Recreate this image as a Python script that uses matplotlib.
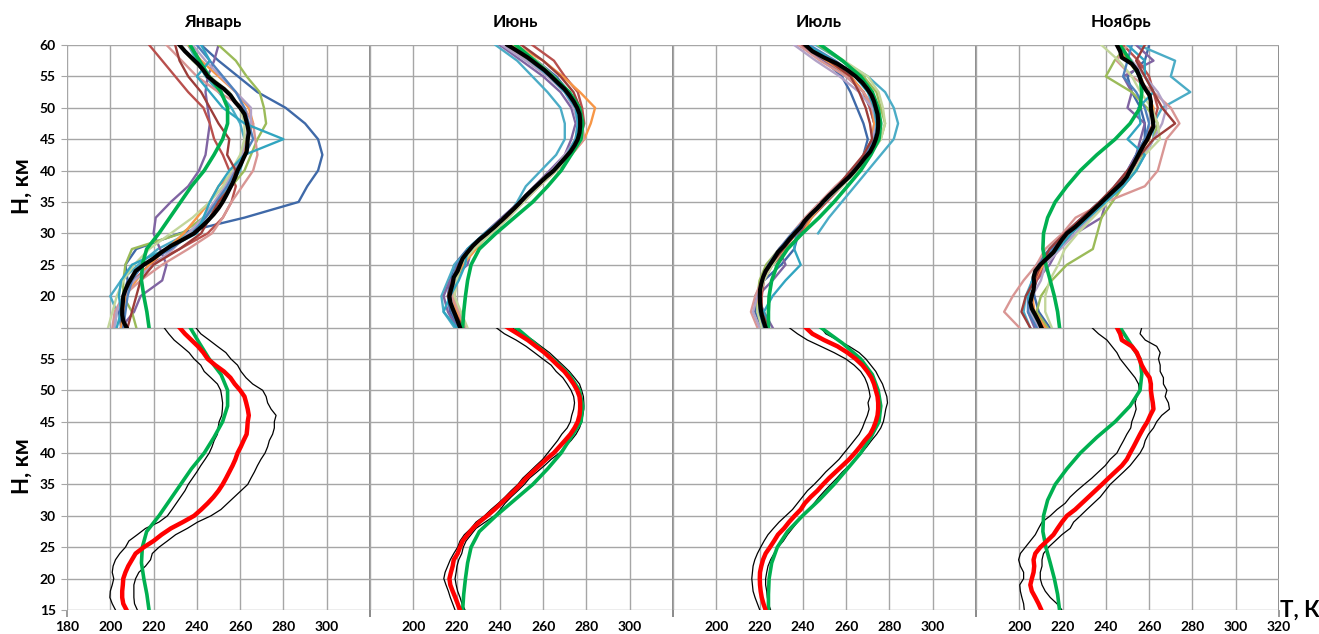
import numpy as np
import matplotlib.pyplot as plt

plt.rcParams['font.family'] = ['Lato', 'Open Sans', 'DejaVu Sans']

# altitude grids, km
h_fine = np.arange(15, 61, 1)
h_nodes = np.arange(15, 60.1, 2.5)

months = ['Январь', 'Июнь', 'Июль', 'Ноябрь']

# ---- January ----
jan_mean = [207.5, 206, 205.5, 205.5, 205.8, 206, 207, 208.3, 210, 211.7, 215.5, 220, 223.7, 228, 233.5, 238.7,
            242, 245, 247.7, 250, 251.9, 253.5, 255, 256.5, 257.8, 258.8, 260.3, 261.6, 263, 263.3, 263.5, 264,
            263.5, 262.8, 262, 260, 257.5, 255.5, 252.5, 248.5, 245, 243, 240.5, 237.5, 234.5, 232]
jan_low = [202.4, 200.9, 199.8, 200, 200.9, 201.6, 200.9, 201.3, 202.4, 204.4, 207, 208.6, 212.5, 216.3, 222.5,
           226.4, 228.5, 230.5, 232.5, 234.5, 236, 238, 240, 241.8, 243.8, 245.7, 247, 248, 249.5, 249.8, 250.3,
           251.5, 251.8, 251.9, 251.5, 251, 249.5, 246.5, 243.4, 241.8, 238.7, 236.4, 233, 229.5, 227, 224.8]
jan_high = [212.5, 211.2, 210.9, 210.9, 210.9, 211.7, 213.2, 216.3, 218.6, 219.4, 222.5, 226.4, 230.2, 235.6,
            240.3, 246.5, 251.1, 254.2, 257.3, 260.4, 263.5, 265, 266.6, 268, 269.6, 271.5, 272.7, 273.5, 275,
            275.8, 275.8, 276.6, 274.3, 272.7, 272, 270.4, 265.8, 262.7, 260.4, 258.8, 255.7, 253.4, 249.5,
            245.7, 241.8, 239.5]
jan_model = [217.9, 216.9, 215.5, 214.4, 214.8, 216.8, 222.5, 227.5, 232.5, 237.5, 243.4, 247.9, 251.9, 254.2,
             254.2, 251.2, 245.7, 241.2, 236.9]
jan_profiles = [
    [205, 204, 206, 208, 207, 212, 232, 262, 287, 291, 296, 298, 296, 290, 281, 268, 259, 250, 242],
    [202, 203, 200, 205, 213, 222, 236, 244, 250, 255, 260, 262, 262, 260, 256, 250, 244, 240, 236],
    [205, 211, 214, 224, 226, 223, 220, 221, 228, 236, 241, 244, 245, 246, 245, 244, 245, 248, 250],
    [207, 206, 206, 211, 218, 232, 245, 252, 256, 258, 255, 252, 248, 246, 243, 236, 230, 224, 218],
    [212, 210, 206, 206, 207, 210, 233, 243, 250, 256, 262, 265, 268, 272, 271, 269, 263, 258, 250],
    [205, 206, 207, 212, 218, 226, 234, 240, 246, 250, 258, 262, 263, 266, 264, 258, 250, 242, 236],
    [201, 202, 206, 214, 224, 236, 247, 252, 256, 261, 266, 268, 267, 266, 262, 250, 240, 233, 226],
    [202, 203, 206, 211, 220, 229, 236, 243, 248, 253, 257, 261, 262, 265, 265, 258, 251, 244, 238],
    [199, 201, 203, 206, 211, 218, 228, 238, 246, 252, 256, 260, 262, 262, 260, 255, 246, 238, 232],
    [206, 207, 208, 210, 215, 228, 238, 244, 249, 254, 258, 262, 266, 264, 262, 258, 252, 246, 240],
    [203, 205, 204, 205, 210, 226, 240, 243, 246, 250, 255, 262, 280, 262, 252, 246, 240, 246, 242],
    [208, 210, 212, 214, 220, 232, 242, 246, 250, 256, 258, 254, 255, 250, 246, 242, 236, 232, 230],
]

# ---- June ----
jun_mean = [221.6, 220.5, 219.4, 218.2, 217.1, 216.7, 217.4, 218.2, 218.7, 220.5, 221.6, 222.8, 225.1, 227.5,
            230.5, 234.1, 237.5, 240.6, 243.6, 246.7, 249.5, 252.1, 255.2, 258.3, 261.4, 264.9, 267.5, 270.1,
            272.6, 274.5, 276, 276.8, 277.1, 277.1, 276.8, 275.7, 274.1, 272.1, 269.8, 266.7, 263.7, 260.6,
            256.7, 252.9, 248.3, 243.6]
jun_low = [219.3, 218.2, 217.1, 216.2, 215.1, 214.1, 214.7, 215.9, 217.1, 218.7, 220.5, 221.6, 223.6, 226.7,
           229, 232.9, 235.9, 239.3, 242.4, 245.2, 248.3, 250.6, 253.7, 256.7, 259.8, 262.1, 264.4, 266.7, 268.6,
           271.1, 272.6, 273.2, 274.1, 274.5, 274.1, 272.9, 271.1, 269.1, 266, 263.7, 259.8, 256, 252.1, 247.5,
           242.1, 238.2]
jun_high = [223.9, 222.5, 221.6, 220.5, 219.8, 219.3, 219.8, 220.2, 221, 222.4, 223.1, 224.4, 226.7, 229, 233.2,
            237.5, 240.2, 242.4, 245.2, 248.3, 251.3, 253.7, 257.2, 260.6, 263.7, 267.5, 270.1, 272.9, 275.2,
            276.8, 277.8, 278.3, 278.8, 278.8, 278.6, 277.8, 276.8, 274.5, 272.1, 269.1, 266, 262.9, 259, 255.2,
            250.6, 245.2]
jun_model = [222.8, 223.3, 224.1, 225.1, 226.7, 230.5, 238.2, 246.7, 255.2, 262.1, 268.3, 272.9, 277.5, 278.3,
             276.8, 272.1, 264.4, 256, 247.5]
jun_profiles = [
    [221, 217, 216, 217, 219, 225, 233, 241, 249, 256, 264, 271, 275, 277, 276, 272, 266, 257, 246],
    [219, 214, 213, 216, 219, 226, 235, 243, 248, 252, 259, 266, 270, 270, 268, 262, 255, 248, 238],
    [220, 216, 214, 217, 225, 227, 233, 241, 249, 256, 263, 270, 273, 275, 273, 268, 260, 250, 240],
    [222, 219, 217, 219, 222, 227, 234, 242, 250, 258, 266, 272, 277, 279, 278, 276, 270, 265, 255],
    [224, 221, 219, 220, 223, 227, 235, 243, 250, 257, 265, 272, 277, 278, 277, 272, 264, 256, 246],
    [223, 220, 218, 219, 223, 229, 235, 243, 251, 258, 266, 273, 279, 282, 284, 277, 269, 260, 247],
    [224, 221, 218, 220, 222, 227, 236, 244, 251, 258, 266, 273, 279, 278, 276, 271, 263, 253, 242],
    [222, 219, 217, 219, 221, 226, 234, 242, 249, 256, 264, 270, 275, 276, 274, 270, 262, 252, 241],
    [225, 222, 219, 220, 222, 228, 236, 244, 251, 258, 266, 273, 278, 278, 276, 272, 265, 257, 248],
    [221, 218, 216, 218, 220, 226, 234, 242, 250, 257, 265, 271, 276, 277, 276, 271, 264, 255, 243],
    [220, 214, 217, 221, 224, 225, 233, 242, 250, 257, 265, 271, 275, 276, 275, 270, 263, 254, 244],
    [223, 219, 216, 218, 221, 226, 234, 243, 250, 257, 265, 272, 276, 278, 277, 274, 268, 260, 250],
]

# ---- July ----
jul_mean = [222.8, 221.8, 221, 220.5, 220.2, 220.1, 220.2, 220.8, 221.6, 222.8, 224.8, 226.7, 228.5, 231.3,
            233.6, 236.2, 239, 240.9, 243.6, 246.7, 249.3, 252.1, 255.2, 258.3, 261.4, 264, 266.4, 268.6, 271.1,
            272.6, 273.7, 274.5, 274.8, 274.8, 274.5, 273.7, 272.9, 271.7, 269.8, 267.5, 264.4, 260.6, 256,
            249.8, 244.4, 241.3]
jul_low = [220.1, 219, 217.9, 217, 216.7, 216.4, 216.7, 217, 217.8, 219, 220.5, 222.1, 223.9, 226.4, 229, 232.1,
           235.2, 237.5, 239.8, 242.1, 245.2, 248, 250.6, 253.7, 256.7, 259, 261.4, 263.7, 266, 267.5, 268.6,
           269.8, 270.6, 270.1, 271.1, 270.6, 269.8, 268.6, 266.7, 263.7, 259.8, 254.4, 248.3, 242.1, 237.5,
           233.6]
jul_high = [225.1, 224.1, 223.6, 223.3, 222.8, 222.8, 223.3, 223.9, 225.1, 226.7, 228.5, 231, 232.9, 235.2,
            237.5, 240.2, 242.9, 245.2, 247.5, 250.1, 252.9, 255.7, 258.3, 261.4, 264.4, 267.1, 269.5, 271.7,
            274.1, 276, 277.2, 277.8, 278.3, 279.1, 278.8, 277.8, 276.8, 275.2, 273.7, 271.4, 269.1, 266, 261.4,
            256, 250.6, 248.3]
jul_model = [224.1, 224.1, 224.4, 225.6, 228.2, 232.9, 239.8, 247.5, 254.4, 260.6, 266.7, 271.4, 275.2, 276,
             274.8, 272.1, 266.7, 258.3, 248.3]
jul_profiles = [
    [221, 218, 218, 222, 230, 236, 238, 243, 250, 257, 264, 268, 270, 268, 265, 262, 258, 250, 239],
    [np.nan] * 6 + [247, 252, 258, 264, 270, 276, 282, 284, 282, 278, 270, 258, 246],
    [226, 222, 219, 226, 232, 229, 236, 242, 249, 257, 264, 269, 273, 273, 271, 268, 260, 250, 238],
    [223, 221, 221, 222, 226, 233, 239, 244, 251, 258, 264, 269, 272, 273, 271, 268, 262, 252, 241],
    [222, 219, 219, 220, 223, 229, 236, 243, 250, 257, 265, 271, 276, 278, 276, 274, 268, 258, 247],
    [223, 220, 219, 221, 224, 232, 240, 244, 250, 257, 264, 268, 272, 273, 272, 268, 262, 251, 240],
    [219, 216, 218, 221, 224, 229, 235, 241, 248, 255, 263, 269, 274, 275, 273, 268, 260, 248, 238],
    [220, 217, 219, 222, 225, 230, 236, 242, 249, 256, 263, 269, 272, 274, 272, 266, 257, 246, 236],
    [221, 219, 220, 222, 226, 231, 237, 243, 250, 258, 265, 271, 276, 278, 277, 275, 270, 259, 248],
    [222, 220, 220, 221, 224, 229, 235, 242, 249, 256, 263, 269, 273, 275, 274, 271, 265, 255, 243],
    [224, 222, 226, 232, 239, 236, 237, 243, 250, 257, 264, 270, 274, 274, 273, 270, 264, 254, 242],
    [224, 221, 220, 221, 225, 231, 237, 243, 249, 256, 262, 268, 272, 271, 269, 266, 262, 252, 240],
]

# ---- November ----
nov_mean = [210.2, 208.9, 207.4, 205.8, 205.1, 205.8, 206.6, 206.9, 206.6, 207.4, 209.7, 212.8, 215.8, 217.7,
            219.7, 222, 225.8, 228.9, 232, 235.1, 238.2, 241.2, 244.3, 247.4, 249.7, 251.2, 252.8, 254.3, 255.8,
            257.4, 259.2, 260.5, 262, 261.7, 261.2, 260.8, 260.8, 260.2, 258.2, 256.6, 255.5, 254.3, 252, 247.4,
            246.6, 245.1]
nov_low = [202.3, 202, 201.2, 200.5, 200.2, 202, 202, 200.5, 199.7, 200.5, 202.8, 205.1, 207.4, 208.9, 210.5,
           214.3, 217.4, 221.2, 223.5, 226.6, 230, 233.5, 236.6, 239.7, 242, 245.1, 246.6, 248.2, 249.7, 251.5,
           252, 253.1, 254, 253.5, 254.3, 255.5, 255.1, 253.5, 251.2, 248.9, 246.6, 245.1, 242.8, 240.5, 236.6,
           233.5]
nov_high = [219.7, 217.4, 214.3, 212, 210.5, 209.7, 209.7, 210.5, 210.5, 211.2, 213.5, 216.6, 219.7, 223.5,
            225.1, 228.2, 231.2, 234.3, 237.4, 239.7, 242, 245.1, 248.2, 251.2, 253.5, 255.8, 257.4, 258.2, 259.7,
            262, 263.5, 265.8, 269.4, 268.9, 267.4, 268.2, 266.6, 266.6, 265.1, 265.1, 264.3, 265.1, 263.5, 258.2,
            255.8, 256.6]
nov_model = [218.6, 217.7, 216.2, 214.3, 212.3, 210.9, 211.2, 213.1, 216.6, 222, 228.2, 235.8, 244.3, 251.2,
             255.8, 256.6, 255.8, 251.2, 246.6]
nov_profiles = [
    [214, 209, 207, 206, 208, 214, 221, 229, 237, 245, 250, 254, 258, 258, 256, 252, 250, 258, 260],
    [205, 202, 203, 206, 210, 216, 224, 232, 240, 248, 254, 258, 262, 262, 266, 279, 270, 272, 255],
    [207, 204, 206, 208, 214, 218, 226, 238, 240, 244, 250, 254, 256, 258, 250, 252, 248, 262, 254],
    [211, 206, 205, 208, 212, 218, 224, 232, 239, 246, 252, 256, 258, 262, 264, 262, 260, 255, 248],
    [213, 208, 210, 215, 222, 234, 236, 238, 243, 248, 254, 257, 262, 264, 259, 252, 240, 244, 250],
    [212, 207, 206, 207, 211, 217, 223, 231, 238, 246, 251, 255, 260, 262, 262, 259, 256, 250, 246],
    [200, 193, 197, 202, 208, 212, 220, 226, 240, 258, 264, 266, 268, 274, 270, 262, 252, 245, 250],
    [209, 205, 206, 210, 212, 219, 226, 233, 240, 247, 253, 258, 262, 266, 268, 264, 258, 252, 246],
    [215, 212, 212, 214, 218, 221, 227, 234, 241, 247, 253, 258, 265, 264, 261, 256, 252, 246, 238],
    [208, 204, 204, 206, 209, 215, 222, 230, 238, 246, 252, 254, 258, 260, 258, 254, 248, 250, 252],
    [210, 206, 204, 206, 210, 218, 224, 232, 240, 248, 254, 258, 250, 256, 255, 262, 258, 258, 250],
    [205, 201, 203, 207, 210, 214, 221, 229, 237, 244, 250, 256, 262, 272, 266, 262, 258, 254, 258],
]

profile_colors = ['#3F69A8', '#4BACC6', '#8064A2', '#B9504D', '#9BBB59', '#F79646',
                  '#D99694', '#B3A2C7', '#C3D69B', '#4F81BD', '#31A5C0', '#9C3D3A']

means = [jan_mean, jun_mean, jul_mean, nov_mean]
lows = [jan_low, jun_low, jul_low, nov_low]
highs = [jan_high, jun_high, jul_high, nov_high]
models = [jan_model, jun_model, jul_model, nov_model]
profiles = [jan_profiles, jun_profiles, jul_profiles, nov_profiles]

W, H = 1319, 634
fig = plt.figure(figsize=(W / 100, H / 100), dpi=100)

x_left, pw = 67, 303
row_edges = [(45, 327.5), (327.5, 610)]
grid_c = '#A6A6A6'
edge_c = '#8A8A8A'
green = '#00B050'


def make_panel(col, row):
    ytop, ybot = row_edges[row]
    ax = fig.add_axes([(x_left + col * pw) / W, 1 - ybot / H, pw / W, (ybot - ytop) / H])
    ax.set_xlim(180, 320)
    ax.set_ylim(15, 60)
    xt = np.arange(180, 321, 20)
    yt = np.arange(15, 61, 5)
    ax.set_xticks(xt)
    ax.set_yticks(yt)
    ax.grid(color=grid_c, lw=1.0, zorder=0)
    for s in ax.spines.values():
        s.set_visible(False)
    ax.axvline(180, color=edge_c, lw=1.4, zorder=0.5)
    ax.axvline(320, color=edge_c, lw=1.4, zorder=0.5)
    ax.tick_params(length=0, labelsize=10)

    # x labels only below the bottom row, shared edges left blank
    if row == 1:
        labels = []
        for v in xt:
            if (v == 180 and col > 0) or (v == 320 and col < 3):
                labels.append('')
            else:
                labels.append(str(v))
        ax.set_xticklabels(labels, fontweight='bold')
        ax.set_xticks([180, 320], minor=True)
        ax.xaxis.remove_overlapping_locs = False
        ax.tick_params(axis='x', which='minor', length=5, color=edge_c, width=1.2)
        ax.tick_params(axis='x', pad=8)
    else:
        ax.set_xticklabels([])

    if col == 0:
        if row == 0:
            ylabels = ['' if v == 15 else str(v) for v in yt]
        else:
            ylabels = ['' if v == 60 else str(v) for v in yt]
        ax.set_yticklabels(ylabels, fontweight='bold')
        ax.tick_params(axis='y', length=4, color=grid_c, pad=4)
    else:
        ax.set_yticklabels([])
    return ax


for i in range(4):
    # individual soundings + mean + model
    ax = make_panel(i, 0)
    for k, prof in enumerate(profiles[i]):
        ax.plot(prof, h_nodes, color=profile_colors[k % len(profile_colors)], lw=1.7, zorder=2)
    ax.plot(models[i], h_nodes, color=green, lw=2.6, zorder=3)
    ax.plot(means[i], h_fine, color='black', lw=3.0, zorder=4)

    # mean with spread vs model
    ax = make_panel(i, 1)
    ax.plot(lows[i], h_fine, color='black', lw=0.9, zorder=2)
    ax.plot(highs[i], h_fine, color='black', lw=0.9, zorder=2)
    ax.plot(models[i], h_nodes, color=green, lw=2.6, zorder=3)
    ax.plot(means[i], h_fine, color='#FF0000', lw=3.2, zorder=4)

    fig.text((x_left + i * pw + pw / 2 - 6) / W, 1 - 22 / H, months[i],
             fontsize=12.5, fontweight='bold', ha='center', va='center')

for yc in (186, 466):
    fig.text(22 / W, 1 - yc / H, 'Н, км', rotation=90, fontsize=16, fontweight='bold',
             ha='center', va='center')
fig.text(1300 / W, 1 - 610 / H, 'Т, К', fontsize=16, fontweight='bold', ha='center', va='center')

fig.savefig('out.png', dpi=100)
